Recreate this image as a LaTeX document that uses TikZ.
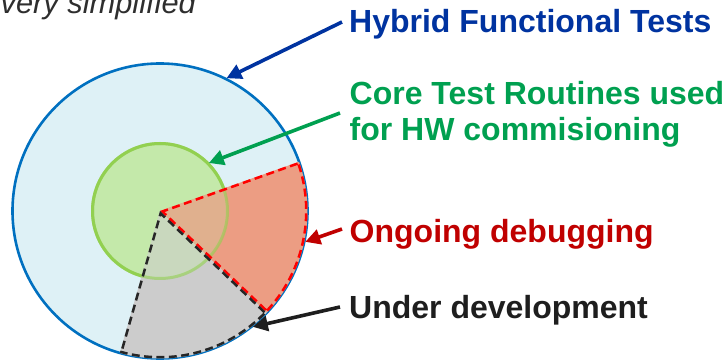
\documentclass[tikz,border=0pt]{standalone}
\usepackage{fontspec}
\setmainfont{Liberation Sans}
\usetikzlibrary{arrows.meta,calc}
\definecolor{bluefill}{HTML}{DEF1F6}
\definecolor{bluestroke}{HTML}{0070C0}
\definecolor{greenfill}{HTML}{C4E9AA}
\definecolor{greenstroke}{HTML}{92D050}
\definecolor{redfill}{HTML}{EC9D83}
\definecolor{redmix}{HTML}{E0B08E}
\definecolor{grayfill}{HTML}{CCCCCC}
\definecolor{graymix}{HTML}{C9D8BE}
\definecolor{redline}{HTML}{FF0000}
\definecolor{darkline}{HTML}{262626}
\definecolor{hybblue}{HTML}{0033A0}
\definecolor{coregreen}{HTML}{00A050}
\definecolor{ongred}{HTML}{C00000}
\definecolor{undblack}{HTML}{1E1E1E}
\begin{document}
\begin{tikzpicture}[x=1pt,y=1pt,
  lbl/.style={font=\fontsize{32}{36}\selectfont\bfseries, inner sep=0, anchor=base west},
  arr/.style={line width=3.6pt, -{Triangle[length=15pt,width=15pt]}},
  sectdash/.style={line width=5pt, dash pattern=on 8pt off 4.5pt}]
\useasboundingbox (0,0) rectangle (726,359);
\coordinate (c) at (160,148);
\def\R{147.5}
\def\r{67.5}
% big circle
\fill[bluefill] (c) circle (\R);
\draw[bluestroke, line width=2.6pt] (c) circle (\R);
% core circle
\fill[greenfill] (c) circle (\r);
\draw[greenstroke, line width=3pt] (c) circle (\r);
% sectors
\fill[redfill] (c) -- ($(c)+(19.5:\R)$) arc[start angle=19.5, end angle=-43.6, radius=\R] -- cycle;
\fill[grayfill] (c) -- ($(c)+(-43.6:\R)$) arc[start angle=-43.6, end angle=-105.8, radius=\R] -- cycle;
\begin{scope}
  \clip (c) circle (\r);
  \fill[redmix] (c) -- ($(c)+(19.5:\R)$) arc[start angle=19.5, end angle=-43.6, radius=\R] -- cycle;
  \fill[graymix] (c) -- ($(c)+(-43.6:\R)$) arc[start angle=-43.6, end angle=-105.8, radius=\R] -- cycle;
\end{scope}
\draw[greenstroke, line width=3pt, draw opacity=0.6] (c) circle (\r);
% dashed outlines (inner halves only)
\begin{scope}
  \clip (c) -- ($(c)+(19.5:\R)$) arc[start angle=19.5, end angle=-43.6, radius=\R] -- cycle;
  \draw[redline, sectdash] (c) -- ($(c)+(19.5:\R)$) arc[start angle=19.5, end angle=-43.6, radius=\R] -- cycle;
\end{scope}
\begin{scope}
  \clip (c) -- ($(c)+(-43.6:\R)$) arc[start angle=-43.6, end angle=-105.8, radius=\R] -- cycle;
  \draw[darkline, sectdash] (c) -- ($(c)+(-43.6:\R)$) arc[start angle=-43.6, end angle=-105.8, radius=\R] -- cycle;
\end{scope}
% labels
\node[font=\fontsize{30.8}{36}\selectfont\itshape, inner sep=0, anchor=base west, text=black!82] (simp) at (0.5,345) {very simplified};
\node[lbl, text=hybblue] (hyb) at (349,326.5) {Hybrid Functional Tests};
\node[lbl, text=coregreen] (core1) at (349.5,254) {Core Test Routines used};
\node[lbl, text=coregreen] (core2) at (349.5,218) {for HW commisioning};
\node[lbl, text=ongred] (ong) at (349.5,116) {Ongoing debugging};
\node[lbl, text=undblack] (und) at (349,41) {Under development};
% arrow tips
\coordinate (tipH) at ($(c)+(63.4:148.5)$);
\coordinate (tipC) at ($(c)+(44.5:68.5)$);
\coordinate (tipO) at ($(c)+(-12:148.5)$);
\coordinate (tipU) at ($(c)+(-51.3:148.5)$);
% arrows
\draw[arr, hybblue] ($(hyb.base west)+(-7,10.5)$) -- (tipH);
\draw[arr, coregreen] ($(core1.base west)+(-9.5,-8)$) -- (tipC);
\draw[arr, ongred] ($(ong.base west)+(-7.5,14)$) -- (tipO);
\draw[arr, undblack] ($(und.base west)+(-9,11)$) -- (tipU);
\end{tikzpicture}
\end{document}
